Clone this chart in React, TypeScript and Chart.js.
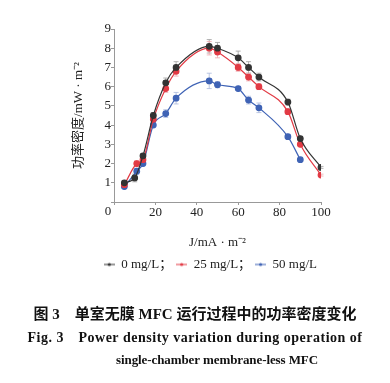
import { useEffect, useRef } from "react";
import { Chart, registerables } from "chart.js";
Chart.register(...registerables);

// ---- data ----
const seriesNames = ["0 mg/L；", "25 mg/L；", "50 mg/L"];
const seriesColors = ["#333333", "#e23a44", "#3f63b5"];
const errColors = ["#a0a0a0", "#eeaaae", "#aab8dc"];

const x0 = [5, 10, 14, 19, 25, 30, 46, 50, 60, 65, 70, 84, 90, 100];
const y0 = [1.0, 1.25, 2.4, 4.5, 6.2, 7.0, 8.1, 8.0, 7.5, 7.0, 6.5, 5.2, 3.3, 1.8];
const e0 = [0.1, 0.2, 0.1, 0.15, 0.25, 0.3, 0.35, 0.3, 0.35, 0.3, 0.2, 0.15, 0.1, 0.05];

const x25 = [5, 11, 14, 19, 25, 30, 46, 50, 60, 65, 70, 84, 90, 100];
const y25 = [0.9, 2.0, 2.2, 4.3, 5.9, 6.8, 8.0, 7.8, 7.0, 6.5, 6.0, 4.7, 3.0, 1.4];
const e25 = [0.1, 0.15, 0.1, 0.15, 0.2, 0.25, 0.35, 0.3, 0.2, 0.2, 0.15, 0.15, 0.1, 0.05];

const x50 = [5, 11, 14, 19, 25, 30, 46, 50, 60, 65, 70, 84, 90];
const y50 = [0.8, 1.6, 2.0, 4.0, 4.6, 5.4, 6.3, 6.1, 5.9, 5.3, 4.9, 3.4, 2.2];
const e50 = [0.1, 0.15, 0.1, 0.1, 0.2, 0.3, 0.4, 0.15, 0.1, 0.2, 0.25, 0.1, 0.05];

const xTickStep = 20;
const yTickStep = 1;
const xTitle = "J/mA · m⁻²";
const yTitle = "功率密度/mW · m⁻²";
const captionLines = [
  "图 3　单室无膜 MFC 运行过程中的功率密度变化",
  "Fig. 3　Power density variation during operation of",
  "single-chamber membrane-less MFC",
];

const serif = "'Liberation Serif', 'Noto Sans CJK SC', serif";

function legendIcon(color: string) {
  const c = document.createElement("canvas");
  c.width = 11;
  c.height = 6;
  const g = c.getContext("2d")!;
  g.strokeStyle = color;
  g.lineWidth = 1;
  g.beginPath();
  g.moveTo(0, 3);
  g.lineTo(11, 3);
  g.stroke();
  g.fillStyle = color;
  g.beginPath();
  g.arc(5.5, 3, 1.6, 0, Math.PI * 2);
  g.fill();
  return c;
}

export default function App() {
  const ref = useRef<HTMLCanvasElement>(null);
  useEffect(() => {
    const xs = [x0, x25, x50];
    const ys = [y0, y25, y50];
    const es = [e0, e25, e50];
    const icons = seriesColors.map(legendIcon);

    const errorBars = {
      id: "errorBars",
      beforeDatasetsDraw(chart: any) {
        const ctx = chart.ctx;
        const xs_ = chart.scales.x;
        const ys_ = chart.scales.y;
        ctx.save();
        ctx.lineWidth = 0.8;
        es.forEach((errs, si) => {
          ctx.strokeStyle = errColors[si];
          errs.forEach((e, i) => {
            const px = xs_.getPixelForValue(xs[si][i]);
            const pTop = ys_.getPixelForValue(ys[si][i] + e);
            const pBot = ys_.getPixelForValue(ys[si][i] - e);
            ctx.beginPath();
            ctx.moveTo(px, pTop);
            ctx.lineTo(px, pBot);
            ctx.moveTo(px - 2.5, pTop);
            ctx.lineTo(px + 2.5, pTop);
            ctx.moveTo(px - 2.5, pBot);
            ctx.lineTo(px + 2.5, pBot);
            ctx.stroke();
          });
        });
        ctx.restore();
      },
    };

    const extras = {
      id: "extras",
      afterDraw(chart: any) {
        const ctx = chart.ctx;
        const xs_ = chart.scales.x;
        ctx.save();
        ctx.fillStyle = "#222";
        ctx.font = "13px " + serif;
        ctx.textAlign = "center";
        ctx.textBaseline = "middle";
        ctx.fillText("0", xs_.getPixelForValue(0) - 6, 212);
        ctx.fillStyle = "#111";
        ctx.font = "bold 15px " + serif;
        (ctx as any).letterSpacing = "0px";
        ctx.fillText(captionLines[0], 195, 315);
        ctx.font = "bold 14px " + serif;
        (ctx as any).letterSpacing = "0.5px";
        ctx.fillText(captionLines[1], 195, 338);
        ctx.font = "bold 13px " + serif;
        (ctx as any).letterSpacing = "-0.1px";
        ctx.fillText(captionLines[2], 217, 361);
        ctx.restore();
      },
    };

    const chart = new Chart(ref.current!, {
      type: "line",
      data: {
        datasets: seriesNames.map((name, si) => ({
          label: name,
          data: xs[si].map((x, i) => ({ x, y: ys[si][i] })),
          borderColor: seriesColors[si],
          backgroundColor: seriesColors[si],
          pointBackgroundColor: seriesColors[si],
          pointBorderColor: seriesColors[si],
          pointRadius: 2.8,
          borderWidth: 1.2,
          tension: 0.4,
          cubicInterpolationMode: "monotone" as const,
        })),
      },
      options: {
        responsive: false,
        animation: false,
        layout: { padding: { left: 66, right: 69, top: 29, bottom: 102 } },
        plugins: {
          tooltip: { enabled: false },
          legend: {
            position: "bottom",
            align: "end",
            labels: {
              usePointStyle: true,
              pointStyleWidth: 11,
              color: "#222",
              font: { family: serif, size: 13 },
              padding: 4,
              generateLabels: () =>
                seriesNames.map((n, i) => ({
                  text: n,
                  pointStyle: icons[i] as any,
                  fillStyle: seriesColors[i],
                  strokeStyle: seriesColors[i],
                  lineWidth: 0,
                  hidden: false,
                  datasetIndex: i,
                  fontColor: "#222",
                })),
            },
          },
        },
        scales: {
          x: {
            type: "linear",
            min: 0,
            max: 100,
            ticks: {
              stepSize: xTickStep,
              color: "#222",
              font: { family: serif, size: 13 },
              padding: 0,
              maxRotation: 0,
              callback: (v: any) => (v === 0 ? "" : String(v)),
            },
            grid: { drawOnChartArea: false, tickLength: 3, color: "#999" },
            border: { color: "#999", width: 1 },
            title: {
              display: true,
              text: xTitle,
              color: "#222",
              font: { family: serif, size: 13 },
              padding: { top: 4, bottom: 4 },
            },
            afterFit: (s: any) => {
              s.height = 52;
            },
          },
          y: {
            min: 0,
            max: 9,
            ticks: {
              stepSize: yTickStep,
              color: "#222",
              font: { family: serif, size: 13 },
              padding: 0,
              callback: (v: any) => (v === 0 ? "" : String(v)),
            },
            grid: { drawOnChartArea: false, tickLength: 3, color: "#999" },
            border: { color: "#999", width: 1 },
            title: {
              display: true,
              text: yTitle,
              color: "#222",
              font: { family: serif, size: 13 },
              padding: { top: 5, bottom: 4 },
            },
            afterFit: (s: any) => {
              s.width = 114 - 66;
            },
          },
        },
      },
      plugins: [errorBars, extras],
    });
    return () => chart.destroy();
  }, []);

  return (
    <div style={{ position: "absolute", left: 0, top: 0, width: 390, height: 383, background: "#fff" }}>
      <canvas ref={ref} width={390} height={383} />
    </div>
  );
}
